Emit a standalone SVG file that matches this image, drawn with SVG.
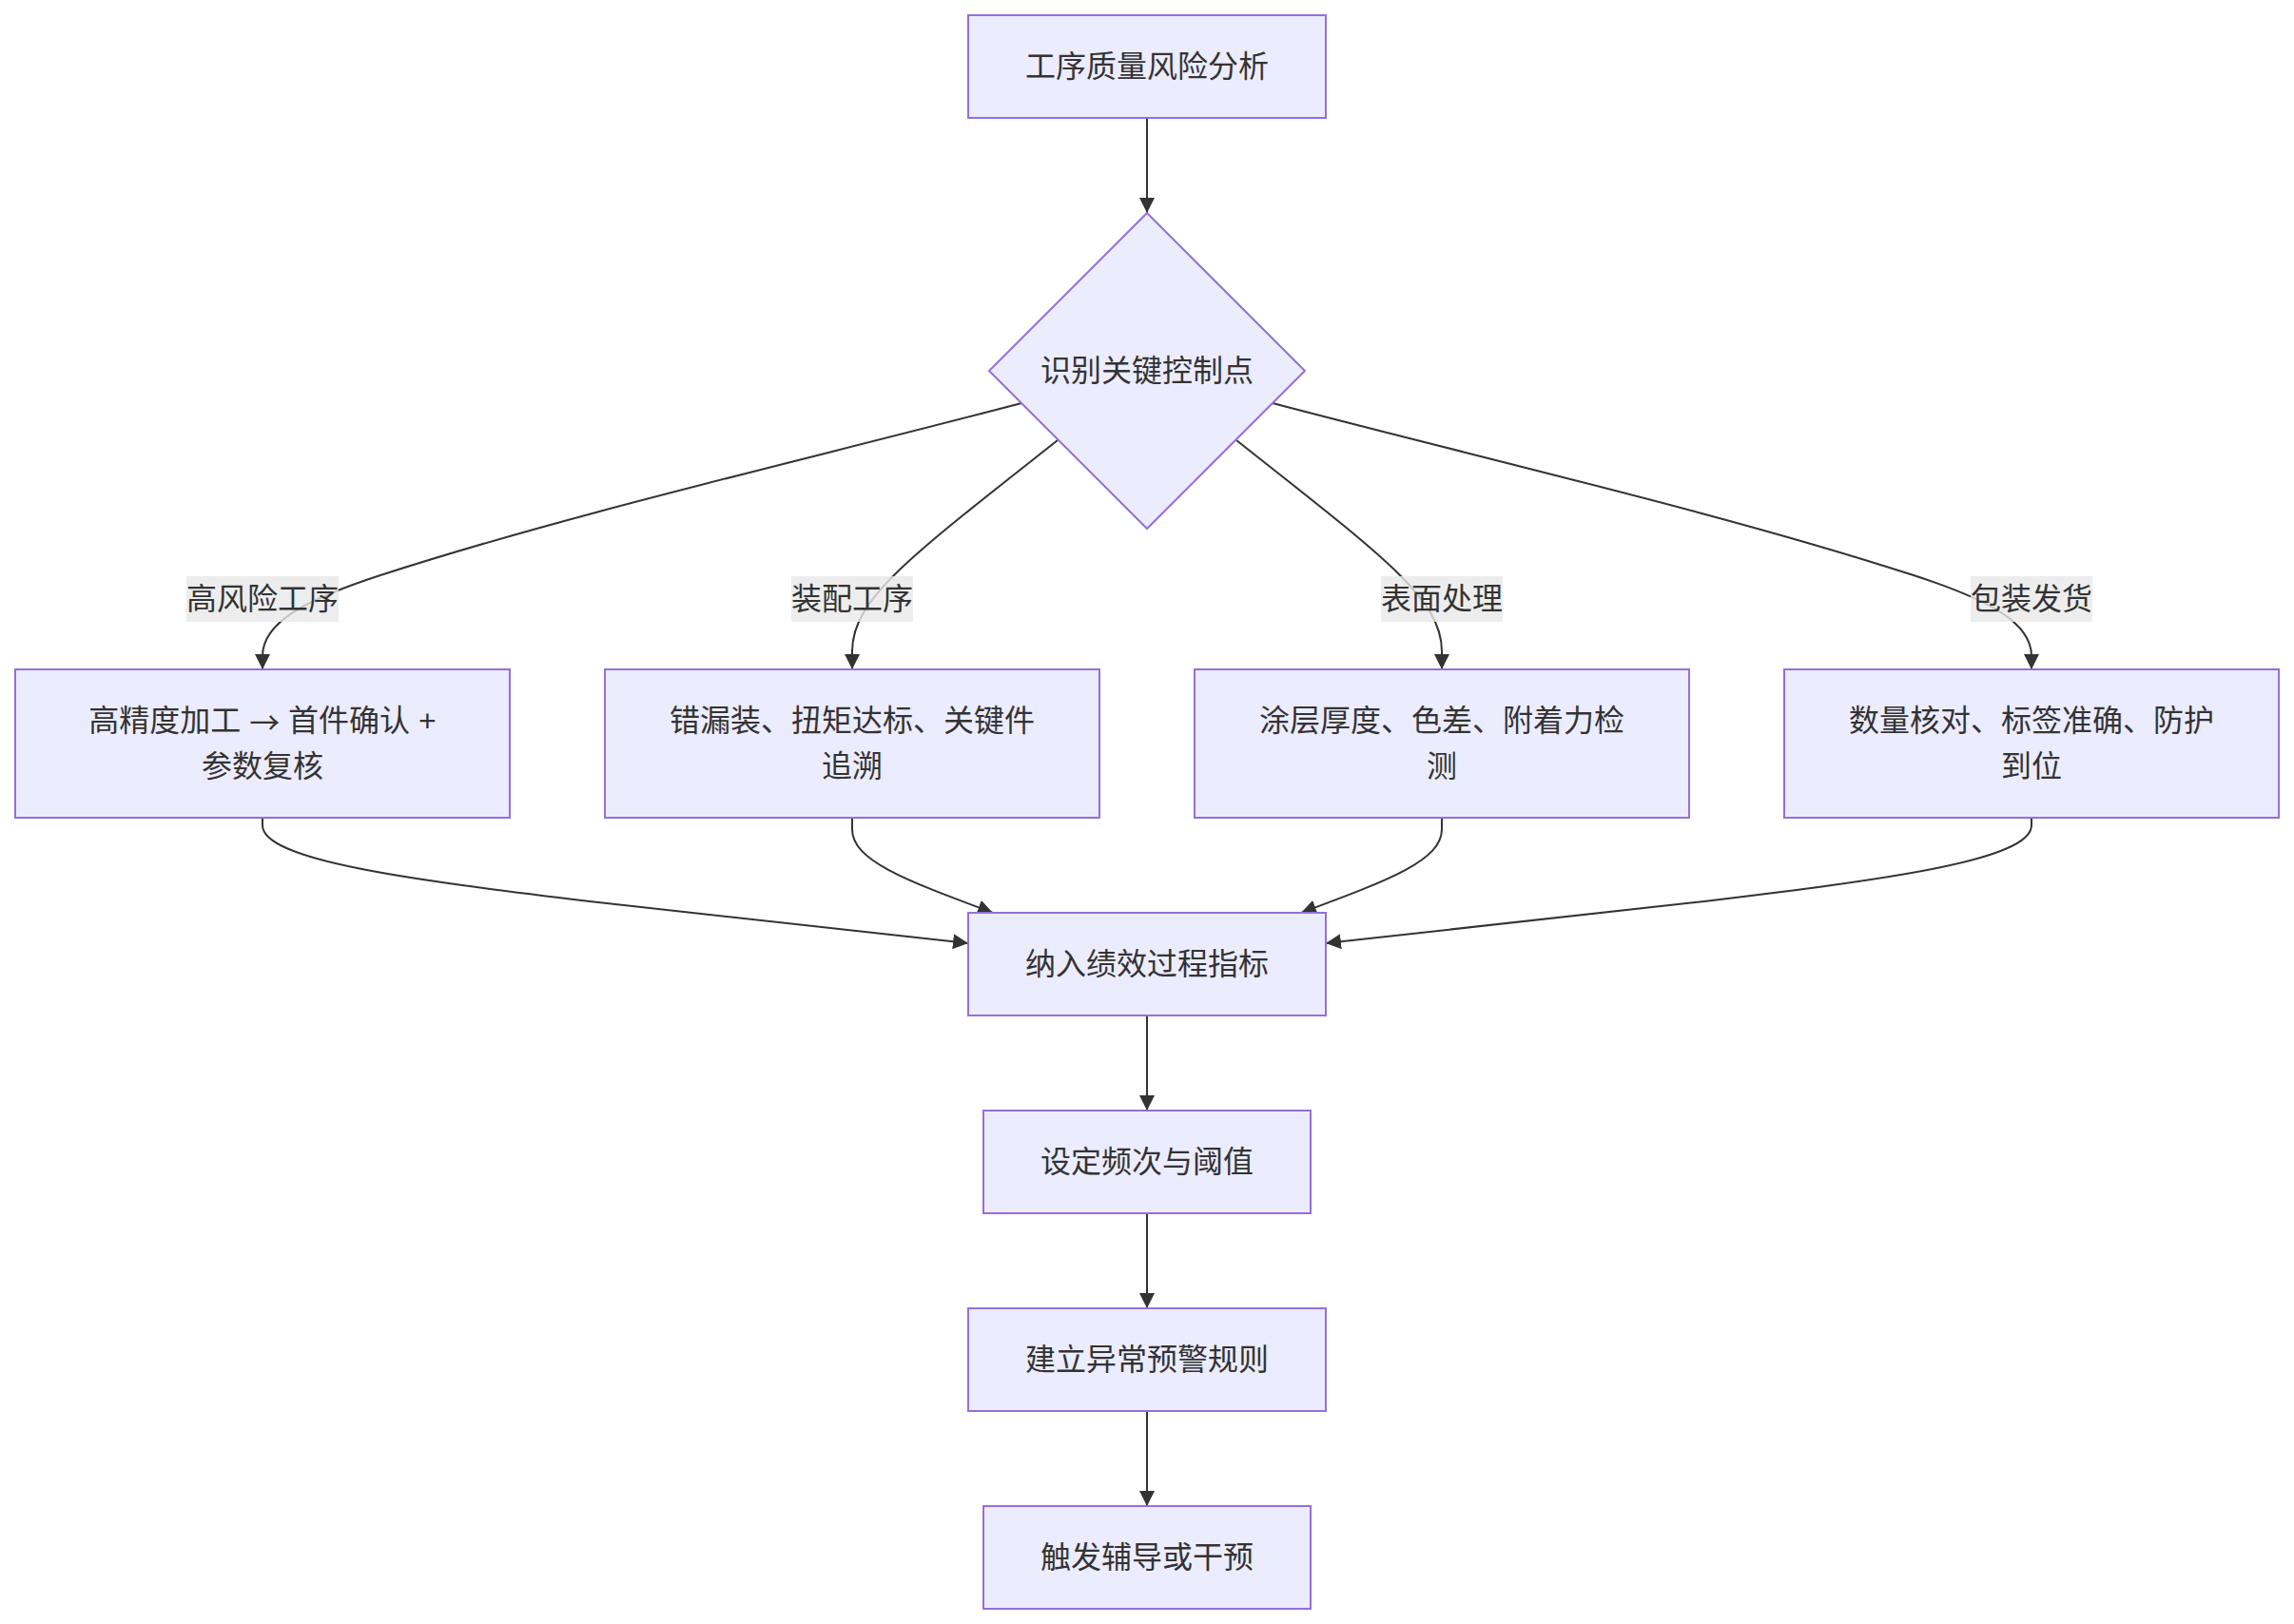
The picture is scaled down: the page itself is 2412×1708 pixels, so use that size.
<svg xmlns="http://www.w3.org/2000/svg" width="2412" height="1708" viewBox="0 0 2412 1708">
<style>
.node rect, .node polygon { fill: #ECECFF; stroke: #9370DB; stroke-width: 2; }
.t { font-family: "Liberation Sans", "Noto Sans CJK SC", sans-serif; font-size: 32px; fill: #333333; text-anchor: middle; dominant-baseline: central; }
.cjk { font-family: "Noto Sans CJK SC", sans-serif; }
.edge { fill: none; stroke: #333333; stroke-width: 2; marker-end: url(#arrow); }
.lbl rect { fill: rgba(232,232,232,0.8); }
</style>
<defs>
<marker id="arrow" viewBox="0 0 10 10" refX="10" refY="5" markerWidth="16" markerHeight="16" markerUnits="userSpaceOnUse" orient="auto">
<path d="M0,0 L10,5 L0,10 z" fill="#333333"/>
</marker>
</defs>
<rect x="0" y="0" width="2412" height="1708" fill="#ffffff"/>
<g id="connectors">
<path class="edge" d="M1206,124 L1206,224"/>
<path class="edge" d="M1074,424 C850,483 600,540 400,605 C320,631 276,655 276,690 L276,704"/>
<path class="edge" d="M1112,463 C1040,520 975,570 940,605 C915,630 896,655 896,685 L896,704"/>
<path class="edge" d="M1300,463 C1372,520 1437,570 1472,605 C1497,630 1516,655 1516,685 L1516,704"/>
<path class="edge" d="M1338,424 C1562,483 1812,540 2012,605 C2092,631 2136,655 2136,690 L2136,704"/>
<path class="edge" d="M276,860 L276,868 C276,905 430,925 620,948 L1018,992"/>
<path class="edge" d="M896,860 L896,872 C896,905 950,925 1044,960"/>
<path class="edge" d="M1516,860 L1516,872 C1516,905 1462,925 1368,960"/>
<path class="edge" d="M2136,860 L2136,868 C2136,905 1982,925 1792,948 L1394,992"/>
<path class="edge" d="M1206,1068 L1206,1168"/>
<path class="edge" d="M1206,1276 L1206,1376"/>
<path class="edge" d="M1206,1484 L1206,1584"/>
<g class="lbl"><rect x="196" y="606" width="160" height="48"/><text class="t" x="276" y="630">高风险工序</text></g>
<g class="lbl"><rect x="832" y="606" width="128" height="48"/><text class="t" x="896" y="630">装配工序</text></g>
<g class="lbl"><rect x="1452" y="606" width="128" height="48"/><text class="t" x="1516" y="630">表面处理</text></g>
<g class="lbl"><rect x="2072" y="606" width="128" height="48"/><text class="t" x="2136" y="630">包装发货</text></g>
</g>
<g id="n-start" class="node"><rect x="1018" y="16" width="376" height="108"/><text class="t" x="1206" y="70">工序质量风险分析</text></g>
<g id="n-decision" class="node"><polygon points="1206,224 1372,390 1206,556 1040,390"/><text class="t" x="1206" y="390">识别关键控制点</text></g>
<g id="n-high" class="node"><rect x="16" y="704" width="520" height="156"/><text class="t" x="276" y="758">高精度加工 <tspan class="cjk">→</tspan> 首件确认 +</text><text class="t" x="276" y="806">参数复核</text></g>
<g id="n-assembly" class="node"><rect x="636" y="704" width="520" height="156"/><text class="t" x="896" y="758">错漏装、扭矩达标、关键件</text><text class="t" x="896" y="806">追溯</text></g>
<g id="n-surface" class="node"><rect x="1256" y="704" width="520" height="156"/><text class="t" x="1516" y="758">涂层厚度、色差、附着力检</text><text class="t" x="1516" y="806">测</text></g>
<g id="n-pack" class="node"><rect x="1876" y="704" width="520" height="156"/><text class="t" x="2136" y="758">数量核对、标签准确、防护</text><text class="t" x="2136" y="806">到位</text></g>
<g id="n-kpi" class="node"><rect x="1018" y="960" width="376" height="108"/><text class="t" x="1206" y="1014">纳入绩效过程指标</text></g>
<g id="n-threshold" class="node"><rect x="1034" y="1168" width="344" height="108"/><text class="t" x="1206" y="1222">设定频次与阈值</text></g>
<g id="n-alert" class="node"><rect x="1018" y="1376" width="376" height="108"/><text class="t" x="1206" y="1430">建立异常预警规则</text></g>
<g id="n-action" class="node"><rect x="1034" y="1584" width="344" height="108"/><text class="t" x="1206" y="1638">触发辅导或干预</text></g>
</svg>
